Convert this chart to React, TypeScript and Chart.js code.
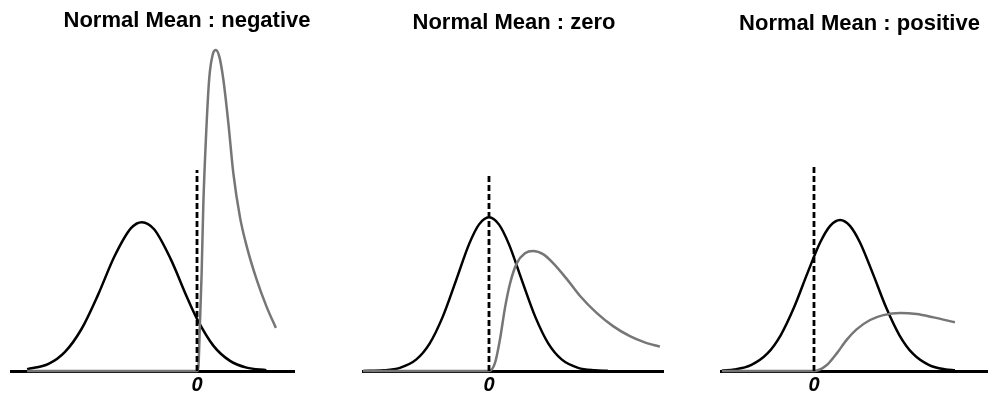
import React, { useEffect, useRef } from "react";
import { Chart, registerables } from "chart.js";

Chart.register(...registerables);

// ---------- text ----------
const TITLES = ["Normal Mean : negative", "Normal Mean : zero", "Normal Mean : positive"];
const ZERO_LABEL = "0";

// ---------- panel 1 : negative mean ----------
const negNormalX = [-5.15, -4.5, -4.0, -3.5, -3.0, -2.5, -2.0, -1.67, -1.3, -0.8, -0.3, 0, 0.5, 1.0, 1.5, 2.1];
const negNormalY = [0.005, 0.019, 0.051, 0.112, 0.203, 0.306, 0.381, 0.397, 0.378, 0.299, 0.196, 0.139, 0.067, 0.027, 0.009, 0.002];
const negOtherX = [-5.15, 0, 0.04, 0.09, 0.14, 0.19, 0.27, 0.37, 0.48, 0.57, 0.68, 0.8, 0.95, 1.1, 1.3, 1.51, 1.81, 2.11, 2.39];
const negOtherY = [0, 0, 0.01, 0.13, 0.26, 0.44, 0.62, 0.78, 0.845, 0.856, 0.837, 0.776, 0.661, 0.528, 0.411, 0.331, 0.243, 0.171, 0.115];

// ---------- panel 2 : zero mean ----------
const zeroNormalX = [-3.8, -3.2, -2.7, -2.2, -1.8, -1.4, -1.0, -0.6, -0.3, 0, 0.3, 0.6, 1.0, 1.4, 1.8, 2.2, 2.7, 3.2, 3.6];
const zeroNormalY = [0.0002, 0.0018, 0.0085, 0.031, 0.073, 0.145, 0.241, 0.339, 0.391, 0.41, 0.391, 0.339, 0.241, 0.145, 0.073, 0.031, 0.0085, 0.0018, 0.0005];
const zeroOtherX = [-3.82, 0, 0.18, 0.33, 0.49, 0.64, 0.84, 1.09, 1.34, 1.65, 1.95, 2.36, 2.76, 3.26, 3.77, 4.27, 4.7, 5.18];
const zeroOtherY = [0, 0, 0.021, 0.083, 0.171, 0.234, 0.287, 0.314, 0.32, 0.311, 0.287, 0.245, 0.2, 0.155, 0.119, 0.093, 0.077, 0.065];

// ---------- panel 3 : positive mean ----------
const posNormalX = [-2.79, -2.41, -1.91, -1.41, -1.01, -0.61, -0.21, 0.19, 0.49, 0.79, 1.09, 1.39, 1.79, 2.19, 2.59, 2.99, 3.49, 3.99, 4.27];
const posNormalY = [0.0015, 0.0042, 0.0157, 0.0468, 0.0953, 0.1685, 0.2583, 0.3434, 0.3872, 0.403, 0.3872, 0.3434, 0.2583, 0.1685, 0.0953, 0.0468, 0.0157, 0.0042, 0.0018];
const posOtherX = [-2.79, 0, 0.39, 0.69, 0.99, 1.29, 1.7, 2.1, 2.61, 3.11, 3.62, 4.27];
const posOtherY = [0, 0, 0.016, 0.047, 0.083, 0.111, 0.136, 0.149, 0.155, 0.152, 0.143, 0.13];

// height of the dashed marker at zero in each panel
const cutoffHeights = [0.536, 0.528, 0.549];

const FONT = '"Liberation Sans", Arial, Helvetica, sans-serif';

type PanelProps = {
  left: number;
  width: number;
  yAxisWidth: number;
  title: string;
  padTop: number;
  padBottom: number;
  xMin: number;
  xMax: number;
  normalX: number[];
  normalY: number[];
  otherX: number[];
  otherY: number[];
  cutoff: number;
};

function Panel(p: PanelProps) {
  const ref = useRef<HTMLCanvasElement>(null);
  useEffect(() => {
    const chart = new Chart(ref.current as HTMLCanvasElement, {
      type: "line",
      data: {
        datasets: [
          {
            data: [
              { x: 0, y: 0 },
              { x: 0, y: p.cutoff },
            ],
            borderColor: "#000",
            borderWidth: 2.8,
            borderDash: [6, 3],
            pointRadius: 0,
            tension: 0,
            clip: false,
          } as any,
          {
            data: p.otherX.map((x, i) => ({ x, y: p.otherY[i] })),
            borderColor: "#767676",
            borderWidth: 2.5,
            pointRadius: 0,
            cubicInterpolationMode: "monotone",
            clip: false,
          } as any,
          {
            data: p.normalX.map((x, i) => ({ x, y: p.normalY[i] })),
            borderColor: "#000",
            borderWidth: 2.5,
            pointRadius: 0,
            cubicInterpolationMode: "monotone",
            clip: false,
          } as any,
        ],
      },
      options: {
        responsive: false,
        animation: false,
        devicePixelRatio: 1,
        events: [],
        layout: { padding: 0 },
        plugins: {
          legend: { display: false },
          tooltip: { enabled: false },
          title: {
            display: true,
            text: p.title,
            color: "#000",
            font: { family: FONT, size: 22, weight: "bold" },
            padding: { top: p.padTop, bottom: p.padBottom },
          },
        },
        scales: {
          x: {
            type: "linear",
            min: p.xMin,
            max: p.xMax,
            grid: { display: false, drawTicks: false },
            border: { display: true, color: "#000", width: 3 },
            ticks: {
              padding: 2,
              color: "#000",
              font: { family: FONT, size: 20, style: "italic", weight: "bold" },
              callback: (v: any) => (Number(v) === 0 ? ZERO_LABEL : ""),
            },
            afterBuildTicks: (s: any) => {
              s.ticks = [{ value: 0 }];
            },
          },
          y: {
            type: "linear",
            min: 0,
            max: 0.87,
            display: p.yAxisWidth > 0,
            position: "right",
            grid: { display: false, drawTicks: false },
            border: { display: false },
            ticks: { display: false },
            afterFit: (s: any) => {
              s.width = p.yAxisWidth;
            },
          },
        },
      } as any,
    });
    return () => chart.destroy();
  }, []);
  return (
    <canvas
      ref={ref}
      width={p.width}
      height={399}
      style={{ position: "absolute", left: p.left, top: 0, width: p.width, height: 399 }}
    />
  );
}

export default function App() {
  return (
    <div
      style={{
        position: "fixed",
        left: 0,
        top: 0,
        width: 988,
        height: 399,
        overflow: "hidden",
        background: "#fff",
      }}
    >
      <Panel
        left={10}
        width={354}
        yAxisWidth={70}
        title={TITLES[0]}
        padTop={8}
        padBottom={10.35}
        xMin={-5.667}
        xMax={2.939}
        normalX={negNormalX}
        normalY={negNormalY}
        otherX={negOtherX}
        otherY={negOtherY}
        cutoff={cutoffHeights[0]}
      />
      <Panel
        left={362}
        width={304}
        yAxisWidth={3}
        title={TITLES[1]}
        padTop={9.5}
        padBottom={8.85}
        xMin={-3.848}
        xMax={5.273}
        normalX={zeroNormalX}
        normalY={zeroNormalY}
        otherX={zeroOtherX}
        otherY={zeroOtherY}
        cutoff={cutoffHeights[1]}
      />
      <Panel
        left={720}
        width={279}
        yAxisWidth={0}
        title={TITLES[2]}
        padTop={11}
        padBottom={7.35}
        xMin={-2.848}
        xMax={5.606}
        normalX={posNormalX}
        normalY={posNormalY}
        otherX={posOtherX}
        otherY={posOtherY}
        cutoff={cutoffHeights[2]}
      />
    </div>
  );
}
